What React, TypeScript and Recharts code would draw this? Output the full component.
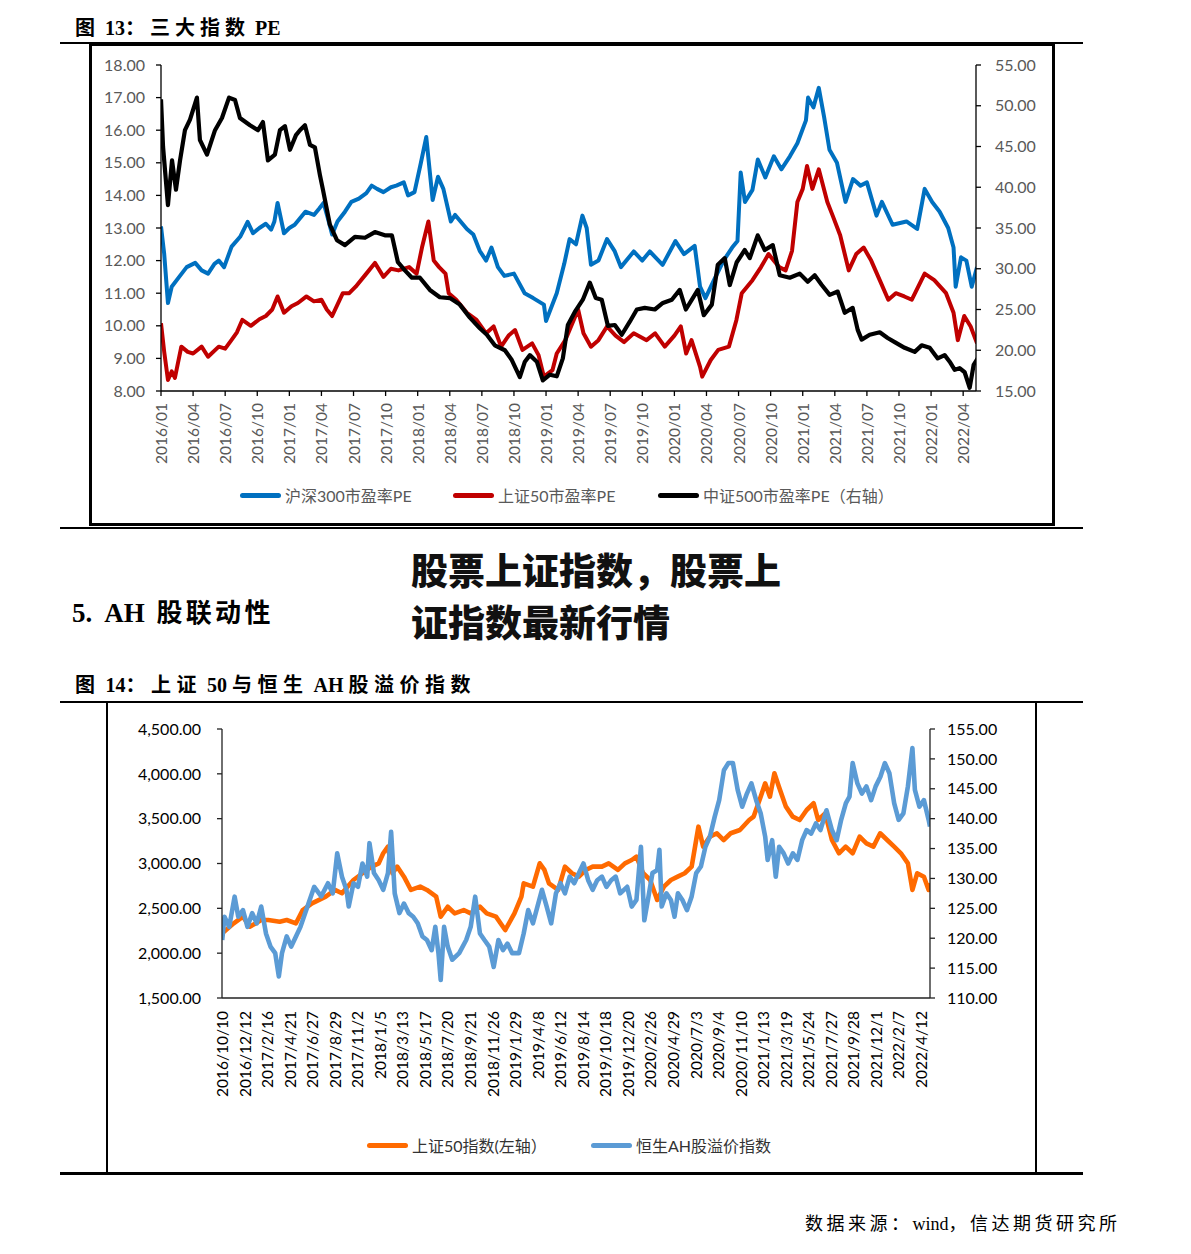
import React from 'react';
import { LineChart, Line, XAxis, YAxis, Legend } from 'recharts';

// ---------- Figure 13: PE of three indices (x = months since 2016/01) ----------
const peTickLabels = [
  '2016/01', '2016/04', '2016/07', '2016/10', '2017/01', '2017/04', '2017/07', '2017/10',
  '2018/01', '2018/04', '2018/07', '2018/10', '2019/01', '2019/04', '2019/07', '2019/10',
  '2020/01', '2020/04', '2020/07', '2020/10', '2021/01', '2021/04', '2021/07', '2021/10',
  '2022/01', '2022/04',
];
const peTickMonths = [0, 3, 6, 9, 12, 15, 18, 21, 24, 27, 30, 33, 36, 39, 42, 45, 48, 51, 54, 57, 60, 63, 66, 69, 72, 75];
const peLeftTicks = [8, 9, 10, 11, 12, 13, 14, 15, 16, 17, 18];
const peRightTicks = [15, 20, 25, 30, 35, 40, 45, 50, 55];

const hs300PE: [number, number][] = [
  [0, 13.05], [0.3, 12.2], [0.65, 10.7], [1.0, 11.2], [1.7, 11.5], [2.4, 11.8], [3.2, 11.93], [3.8, 11.7],
  [4.4, 11.6], [5.0, 11.9], [5.4, 12.0], [5.9, 11.8], [6.6, 12.43], [7.4, 12.73], [8.1, 13.19], [8.6, 12.84],
  [9.2, 13.0], [9.8, 13.13], [10.3, 12.95], [10.6, 13.2], [10.9, 13.77], [11.5, 12.84], [12.0, 13.0], [12.5, 13.1],
  [13.0, 13.3], [13.5, 13.5], [14.3, 13.4], [14.8, 13.6], [15.2, 13.77], [15.6, 13.3], [16.0, 12.8], [16.5, 13.2],
  [17.2, 13.5], [17.8, 13.8], [18.5, 13.9], [19.2, 14.07], [19.7, 14.3], [20.2, 14.2], [20.8, 14.1], [21.5, 14.25],
  [22.0, 14.3], [22.7, 14.4], [23.1, 14.0], [23.7, 14.1], [24.3, 15.0], [24.8, 15.79], [25.4, 13.86], [25.9, 14.57],
  [26.4, 14.2], [27.1, 13.2], [27.5, 13.4], [28.6, 12.97], [29.2, 12.8], [29.8, 12.3], [30.4, 12.0], [30.9, 12.4],
  [31.5, 11.8], [32.1, 11.53], [33.0, 11.6], [34.0, 11.0], [34.8, 10.85], [35.8, 10.65], [36.0, 10.15], [37.0, 11.0],
  [37.7, 11.9], [38.2, 12.66], [38.8, 12.5], [39.4, 13.38], [39.8, 13.0], [40.2, 11.87], [40.9, 12.0], [41.7, 12.66],
  [42.4, 12.3], [43.0, 11.8], [44.2, 12.28], [45.0, 12.0], [45.7, 12.28], [46.9, 11.87], [48.1, 12.6], [48.9, 12.2],
  [49.9, 12.45], [50.4, 11.2], [50.9, 10.85], [51.7, 11.4], [52.6, 12.0], [53.4, 12.4], [53.9, 12.6], [54.2, 14.7],
  [54.6, 13.8], [55.3, 14.17], [55.8, 15.1], [56.5, 14.55], [57.3, 15.2], [58.0, 14.8], [58.8, 15.2], [59.5, 15.6],
  [60.3, 16.3], [60.5, 17.0], [61.0, 16.7], [61.5, 17.3], [62.0, 16.4], [62.5, 15.4], [63.2, 15.0], [64.0, 13.8],
  [64.7, 14.5], [65.4, 14.3], [66.0, 14.4], [66.9, 13.38], [67.4, 13.8], [68.4, 13.1], [69.7, 13.2], [70.7, 12.97],
  [71.4, 14.2], [72.1, 13.8], [72.8, 13.5], [73.6, 13.0], [74.1, 12.4], [74.3, 11.2], [74.8, 12.1], [75.3, 12.0],
  [75.8, 11.2], [76.3, 11.8],
];

const sz50PE: [number, number][] = [
  [0, 10.08], [0.3, 9.2], [0.65, 8.34], [1.0, 8.6], [1.3, 8.4], [1.9, 9.36], [2.5, 9.2], [3.0, 9.15],
  [3.8, 9.36], [4.4, 9.05], [5.4, 9.36], [6.0, 9.3], [6.6, 9.57], [7.1, 9.8], [7.6, 10.18], [8.4, 10.0],
  [9.2, 10.2], [9.8, 10.3], [10.4, 10.5], [10.9, 10.9], [11.5, 10.4], [12.2, 10.6], [12.8, 10.7], [13.6, 10.9],
  [14.3, 10.75], [15.0, 10.8], [15.5, 10.5], [16.0, 10.3], [17.0, 11.0], [17.6, 11.0], [18.2, 11.2], [19.2, 11.6],
  [20.0, 11.93], [20.8, 11.5], [21.5, 11.75], [22.2, 11.7], [23.2, 11.8], [23.9, 11.6], [24.4, 12.4], [25.0, 13.2],
  [25.5, 12.0], [26.0, 11.8], [26.6, 11.6], [26.9, 11.0], [27.6, 10.8], [28.6, 10.4], [29.5, 10.18], [30.4, 9.77],
  [31.1, 9.98], [31.8, 9.36], [32.5, 9.7], [33.1, 9.87], [33.8, 9.26], [34.7, 9.46], [35.3, 9.1], [35.8, 8.44],
  [36.6, 8.64], [37.0, 9.15], [37.8, 9.56], [39.0, 10.5], [39.5, 9.77], [40.2, 9.36], [40.9, 9.56], [41.7, 9.98],
  [42.5, 9.7], [43.3, 9.5], [44.2, 9.77], [45.4, 9.56], [46.2, 9.77], [47.1, 9.36], [48.0, 9.7], [48.6, 9.98],
  [49.1, 9.15], [49.6, 9.56], [50.4, 8.74], [50.6, 8.44], [51.4, 8.95], [52.1, 9.26], [53.1, 9.36], [53.8, 10.18],
  [54.3, 11.0], [55.3, 11.4], [56.1, 11.8], [56.8, 12.2], [57.8, 11.8], [58.4, 11.7], [59.0, 12.3], [59.5, 13.8],
  [60.0, 14.2], [60.4, 14.9], [60.9, 14.2], [61.5, 14.8], [62.3, 13.8], [62.8, 13.38], [63.5, 12.78], [64.3, 11.7],
  [65.0, 12.2], [65.7, 12.4], [66.4, 12.0], [67.2, 11.4], [68.0, 10.8], [68.7, 11.0], [69.5, 10.9], [70.2, 10.8],
  [71.4, 11.6], [72.3, 11.4], [73.4, 11.0], [74.1, 10.4], [74.5, 9.56], [75.1, 10.3], [75.7, 9.98], [76.3, 9.46],
];

const zz500PE: [number, number][] = [
  [0, 50.8], [0.19, 45.0], [0.65, 37.8], [1.03, 43.3], [1.4, 39.7], [1.78, 43.3], [2.24, 47.0], [2.71, 48.3],
  [3.36, 51.0], [3.64, 45.8], [4.3, 44.0], [5.05, 47.0], [5.7, 48.5], [6.36, 51.0], [6.92, 50.7], [7.38, 48.5],
  [8.32, 47.6], [9.07, 47.0], [9.53, 48.0], [10.0, 43.3], [10.65, 44.0], [11.12, 47.0], [11.59, 47.5], [12.06, 44.6],
  [12.62, 46.4], [12.99, 47.0], [13.46, 47.6], [13.93, 45.2], [14.39, 44.9], [14.86, 41.5], [15.14, 39.7], [15.79, 35.4],
  [16.45, 33.5], [17.2, 32.9], [18.13, 33.9], [19.07, 33.8], [20.0, 34.5], [20.93, 34.1], [21.59, 34.1], [22.15, 30.8],
  [22.8, 29.8], [23.46, 28.9], [24.21, 28.9], [25.14, 27.4], [26.07, 26.5], [27.01, 26.4], [27.94, 25.6], [28.88, 24.0],
  [29.81, 22.7], [30.47, 21.9], [31.21, 20.6], [32.15, 20.0], [32.8, 18.8], [33.55, 16.7], [34.02, 18.6], [34.49, 19.4],
  [35.14, 18.6], [35.7, 16.3], [36.36, 17.0], [37.0, 16.8], [37.57, 19.0], [38.04, 23.1], [38.69, 24.7], [39.44, 26.2],
  [40.09, 28.3], [40.65, 26.4], [41.21, 26.2], [41.78, 23.0], [42.43, 23.1], [43.08, 21.9], [43.83, 23.5], [44.49, 25.0],
  [45.23, 25.2], [46.17, 25.0], [46.92, 25.8], [47.76, 26.2], [48.5, 27.4], [49.07, 25.0], [49.72, 26.4], [50.19, 27.4],
  [50.75, 24.3], [51.5, 25.6], [52.06, 30.5], [52.71, 31.3], [53.18, 28.0], [53.83, 30.8], [54.58, 32.3], [55.05, 31.3],
  [55.79, 34.1], [56.45, 32.3], [57.2, 32.9], [57.85, 29.2], [58.79, 28.9], [59.72, 29.4], [60.47, 28.4], [61.12, 29.2],
  [61.78, 28.0], [62.52, 26.8], [63.27, 27.2], [63.93, 24.6], [64.67, 25.2], [65.14, 22.5], [65.51, 21.3], [66.26, 21.9],
  [67.2, 22.2], [67.94, 21.5], [68.6, 21.0], [69.53, 20.3], [70.47, 19.8], [71.12, 20.6], [71.87, 20.3], [72.62, 19.0],
  [73.27, 19.4], [73.74, 18.6], [74.21, 17.6], [74.67, 17.8], [75.14, 17.3], [75.61, 15.4], [75.98, 18.2], [76.36, 19.0],
];

// ---------- Figure 14: SSE 50 vs Hang Seng AH premium (x = label interval index) ----------
const ahTickLabels = [
  '2016/10/10', '2016/12/12', '2017/2/16', '2017/4/21', '2017/6/27', '2017/8/29', '2017/11/2', '2018/1/5',
  '2018/3/13', '2018/5/17', '2018/7/20', '2018/9/21', '2018/11/26', '2019/1/29', '2019/4/8', '2019/6/12',
  '2019/8/14', '2019/10/18', '2019/12/20', '2020/2/26', '2020/4/29', '2020/7/3', '2020/9/4', '2020/11/10',
  '2021/1/13', '2021/3/19', '2021/5/24', '2021/7/27', '2021/9/28', '2021/12/1', '2022/2/7', '2022/4/12',
];
const ahLeftTicks = [1500, 2000, 2500, 3000, 3500, 4000, 4500];
const ahRightTicks = [110, 115, 120, 125, 130, 135, 140, 145, 150, 155];

const sz50Index: [number, number][] = [
  [0.01, 2221], [0.52, 2333], [0.93, 2407], [1.23, 2295], [1.74, 2370], [2.05, 2370], [2.56, 2351], [2.87, 2370],
  [3.28, 2333], [3.58, 2481], [3.99, 2556], [4.6, 2630], [5.01, 2705], [5.32, 2668], [5.83, 2816], [6.23, 2891],
  [6.64, 2965], [6.95, 3002], [7.15, 3114], [7.36, 3188], [7.56, 2891], [7.77, 2965], [8.07, 2853], [8.38, 2705],
  [8.79, 2742], [9.09, 2705], [9.5, 2630], [9.7, 2407], [10.01, 2518], [10.32, 2444], [10.72, 2481], [11.03, 2444],
  [11.44, 2518], [11.74, 2444], [12.15, 2407], [12.56, 2258], [12.97, 2444], [13.28, 2630], [13.38, 2779], [13.79, 2742],
  [14.09, 3002], [14.3, 2928], [14.5, 2779], [14.91, 2705], [15.21, 2965], [15.52, 2891], [15.83, 2853], [16.13, 2928],
  [16.44, 2965], [16.85, 2965], [17.15, 3002], [17.56, 2928], [17.87, 3002], [18.17, 3039], [18.38, 3077], [18.68, 2891],
  [18.99, 2816], [19.3, 2593], [19.6, 2742], [19.91, 2816], [20.21, 2853], [20.52, 2891], [20.83, 2965], [21.03, 3262],
  [21.13, 3411], [21.34, 3188], [21.64, 3300], [21.95, 3337], [22.25, 3262], [22.56, 3337], [22.97, 3374], [23.38, 3485],
  [23.58, 3523], [23.89, 3745], [24.09, 3894], [24.3, 3745], [24.5, 4006], [24.7, 3857], [25.01, 3634], [25.31, 3523],
  [25.62, 3485], [25.93, 3597], [26.24, 3672], [26.44, 3485], [26.75, 3560], [27.05, 3262], [27.36, 3114], [27.66, 3188],
  [27.97, 3114], [28.28, 3300], [28.58, 3225], [28.89, 3188], [29.19, 3337], [29.5, 3262], [29.81, 3188], [30.11, 3114],
  [30.42, 3002], [30.62, 2705], [30.83, 2891], [31.13, 2853], [31.34, 2705], [31.4, 2779],
];

const ahPremium: [number, number][] = [
  [0.01, 119.7], [0.11, 123.6], [0.32, 121.9], [0.56, 126.95], [0.72, 123.6], [0.93, 124.7], [1.13, 121.9], [1.34, 124.2],
  [1.54, 122.5], [1.74, 125.3], [1.95, 120.8], [2.15, 118.6], [2.36, 117.5], [2.52, 113.6], [2.66, 117.5], [2.87, 120.3],
  [3.07, 118.6], [3.28, 120.3], [3.48, 121.9], [3.79, 125.3], [4.09, 128.6], [4.4, 127.0], [4.7, 129.2], [4.91, 127.5],
  [5.11, 134.2], [5.32, 130.3], [5.52, 128.1], [5.62, 125.3], [5.83, 129.2], [6.03, 128.6], [6.23, 132.5], [6.44, 130.3],
  [6.54, 135.9], [6.74, 130.9], [6.95, 129.7], [7.15, 128.1], [7.36, 130.9], [7.5, 137.8], [7.66, 127.5], [7.87, 124.2],
  [8.07, 125.8], [8.28, 124.2], [8.48, 123.6], [8.68, 122.5], [8.89, 120.3], [9.09, 119.7], [9.3, 118.0], [9.46, 121.9],
  [9.6, 117.5], [9.7, 113.0], [9.85, 121.9], [10.01, 118.6], [10.21, 116.4], [10.52, 117.5], [10.83, 119.7], [11.03, 121.9],
  [11.23, 126.95], [11.44, 120.8], [11.64, 119.7], [11.85, 118.6], [12.05, 115.2], [12.26, 119.7], [12.46, 118.0], [12.66, 119.1],
  [12.87, 117.5], [13.17, 117.5], [13.38, 120.8], [13.58, 124.7], [13.79, 122.5], [13.99, 125.3], [14.19, 128.1], [14.4, 125.3],
  [14.6, 122.5], [14.81, 127.5], [15.01, 129.2], [15.21, 127.5], [15.42, 130.3], [15.62, 129.2], [15.83, 130.9], [16.03, 132.5],
  [16.24, 129.7], [16.44, 128.1], [16.64, 129.7], [16.85, 130.3], [17.05, 128.6], [17.26, 129.7], [17.46, 130.3], [17.66, 127.5],
  [17.97, 128.6], [18.17, 125.3], [18.38, 126.4], [18.58, 135.3], [18.73, 123.0], [18.89, 126.4], [19.09, 130.9], [19.3, 131.4],
  [19.4, 134.8], [19.5, 125.3], [19.71, 127.5], [19.91, 126.4], [20.07, 123.6], [20.22, 127.5], [20.42, 126.4], [20.62, 124.7],
  [20.83, 127.0], [21.03, 130.9], [21.24, 132.0], [21.44, 135.3], [21.64, 137.0], [21.85, 140.3], [22.05, 143.1], [22.26, 148.1],
  [22.46, 149.3], [22.66, 149.3], [22.87, 144.8], [23.07, 142.0], [23.28, 144.2], [23.48, 145.9], [23.69, 143.1], [23.89, 140.9],
  [24.09, 137.0], [24.2, 133.1], [24.4, 136.4], [24.56, 130.3], [24.71, 135.3], [24.91, 134.2], [25.11, 132.5], [25.32, 134.2],
  [25.52, 133.1], [25.73, 136.4], [25.93, 138.1], [26.13, 137.5], [26.34, 139.2], [26.54, 138.1], [26.81, 141.4], [27.05, 138.1],
  [27.26, 136.4], [27.46, 139.8], [27.67, 142.6], [27.83, 143.7], [27.97, 149.3], [28.18, 145.9], [28.38, 144.2], [28.58, 145.4],
  [28.79, 143.1], [28.99, 145.4], [29.2, 147.0], [29.4, 149.3], [29.6, 147.6], [29.81, 142.6], [30.01, 139.8], [30.22, 140.9],
  [30.42, 145.4], [30.62, 151.8], [30.73, 144.8], [30.93, 142.0], [31.13, 143.1], [31.34, 139.8], [31.4, 138.7],
];

// ---------- helpers ----------
const toRows = (pts: [number, number][]) => pts.map(([x, v]) => ({ x, v }));
const ahTickIdx = ahTickLabels.map((_, i) => i);

const AXIS_FONT = "Lato, 'Noto Sans CJK SC', sans-serif";
const SERIF_FONT = "'Liberation Serif', 'Times New Roman', 'Noto Sans CJK SC', serif";

const RotTick = (props: any) => {
  const { x, y, payload, labels, off, color } = props;
  const label = labels[payload.index] ?? '';
  return (
    <g transform={`translate(${x},${y})`}>
      <text
        transform="rotate(-90)"
        x={-off}
        y={0}
        textAnchor="end"
        dominantBaseline="central"
        fill={color}
        fontSize={15.5}
        fontFamily={AXIS_FONT}
      >
        {label}
      </text>
    </g>
  );
};

type LegendItem = { name: string; color: string; left: number };
const makeLegend = (items: LegendItem[], color: string) => () => (
  <div style={{ position: 'relative', width: 1191, height: 24, fontFamily: AXIS_FONT, fontSize: 16, color }}>
    {items.map((it) => (
      <div
        key={it.name}
        style={{ position: 'absolute', left: it.left, top: 0, height: 24, display: 'flex', alignItems: 'center', whiteSpace: 'nowrap' }}
      >
        <span style={{ display: 'inline-block', width: 41, height: 5, borderRadius: 3, background: it.color, marginRight: 4 }} />
        <span>{it.name}</span>
      </div>
    ))}
  </div>
);

const peLegend = makeLegend(
  [
    { name: '沪深300市盈率PE', color: '#0070C0', left: 240 },
    { name: '上证50市盈率PE', color: '#C00000', left: 453 },
    { name: '中证500市盈率PE（右轴）', color: '#000000', left: 658 },
  ],
  '#595959'
);
const ahLegend = makeLegend(
  [
    { name: '上证50指数(左轴）', color: '#FF6A00', left: 367 },
    { name: '恒生AH股溢价指数', color: '#5B9BD5', left: 591 },
  ],
  '#333333'
);

const abs = (s: React.CSSProperties): React.CSSProperties => ({ position: 'absolute', ...s });
// CJK parts get wider tracking, Latin parts stay tight
const cj = (t: string, ls: number) => <span style={{ letterSpacing: ls }}>{t}</span>;
const la = (t: string) => <span style={{ letterSpacing: 0 }}>{t}</span>;

export default function App() {
  const fmt2 = (v: number) => v.toFixed(2);
  const fmtComma = (v: number) => v.toLocaleString('en-US', { minimumFractionDigits: 2, maximumFractionDigits: 2 });
  return (
    <div style={abs({ left: 0, top: 0, width: 1191, height: 1254, background: '#fff', overflow: 'hidden' })}>
      {/* Title 13 */}
      <div style={abs({ left: 75, top: 15, fontFamily: SERIF_FONT, fontWeight: 700, fontSize: 20, lineHeight: '26px', color: '#000', whiteSpace: 'pre' })}>
        {cj('图', 5)}{la(' 13')}{cj('：三大指数', 5)}{la(' PE')}
      </div>
      <div style={abs({ left: 60, top: 42, width: 1023, height: 2, background: '#000' })} />
      <div style={abs({ left: 89, top: 43, width: 966, height: 483, border: '3px solid #000', boxSizing: 'border-box' })} />
      <div style={abs({ left: 60, top: 527, width: 1023, height: 2, background: '#000' })} />

      <div style={abs({ left: 0, top: 0 })}>
        <LineChart width={1191} height={540} margin={{ top: 65, right: 155, bottom: 79, left: 101 }}>
          <XAxis
            type="number"
            dataKey="x"
            domain={[0, 76.2]}
            allowDataOverflow
            ticks={peTickMonths}
            interval={0}
            height={70}
            tickSize={5}
            tickMargin={2}
            stroke="#000"
            strokeWidth={1.3}
            tick={<RotTick labels={peTickLabels} off={5} color="#595959" />}
          />
          <YAxis
            yAxisId="L"
            domain={[8, 18]}
            ticks={peLeftTicks}
            interval={0}
            width={60}
            tickSize={5}
            tickMargin={11}
            stroke="#000"
            strokeWidth={1.3}
            tickFormatter={fmt2}
            tick={{ fill: '#595959', fontSize: 16, fontFamily: AXIS_FONT }}
          />
          <YAxis
            yAxisId="R"
            orientation="right"
            domain={[15, 55]}
            ticks={peRightTicks}
            interval={0}
            width={60}
            tickSize={5}
            tickMargin={14}
            stroke="#000"
            strokeWidth={1.3}
            tickFormatter={fmt2}
            tick={{ fill: '#595959', fontSize: 16, fontFamily: AXIS_FONT }}
          />
          <Line yAxisId="L" data={toRows(hs300PE)} dataKey="v" name="沪深300市盈率PE" stroke="#0070C0" strokeWidth={4} strokeLinejoin="round" dot={false} isAnimationActive={false} />
          <Line yAxisId="L" data={toRows(sz50PE)} dataKey="v" name="上证50市盈率PE" stroke="#C00000" strokeWidth={4} strokeLinejoin="round" dot={false} isAnimationActive={false} />
          <Line yAxisId="R" data={toRows(zz500PE)} dataKey="v" name="中证500市盈率PE（右轴）" stroke="#000000" strokeWidth={4.2} strokeLinejoin="round" dot={false} isAnimationActive={false} />
          <Legend content={peLegend} layout="horizontal" verticalAlign="middle" align="center" wrapperStyle={{ left: 0, top: 483, width: 1191, height: 24 }} />
        </LineChart>
      </div>

      {/* Section heading and overlay */}
      <div style={abs({ left: 72, top: 597, fontFamily: SERIF_FONT, fontWeight: 700, fontSize: 27, lineHeight: '32px', color: '#000', whiteSpace: 'pre' })}>
        {la('5.  AH ')}<span style={{ fontSize: 26, letterSpacing: 3.3, marginLeft: 5 }}>股联动性</span>
      </div>
      <div style={abs({ left: 411, top: 543, width: 420, fontFamily: "'Noto Sans CJK SC', sans-serif", fontWeight: 900, fontSize: 37, letterSpacing: 0, lineHeight: '52px', color: '#111' })}>
        <div>股票上证指数，股票上</div>
        <div>证指数最新行情</div>
      </div>

      {/* Title 14 */}
      <div style={abs({ left: 75, top: 672, fontFamily: SERIF_FONT, fontWeight: 700, fontSize: 20, lineHeight: '26px', color: '#000', whiteSpace: 'pre' })}>
        {cj('图', 5.5)}{la(' 14')}{cj('：上证', 5.5)}{la(' 50 ')}{cj('与恒生', 5.5)}{la(' AH ')}{cj('股溢价指数', 5.5)}
      </div>
      <div style={abs({ left: 60, top: 701, width: 1023, height: 1.5, background: '#000' })} />
      <div style={abs({ left: 106, top: 702, width: 2, height: 471, background: '#000' })} />
      <div style={abs({ left: 1035, top: 702, width: 2, height: 471, background: '#000' })} />
      <div style={abs({ left: 60, top: 1172, width: 1023, height: 3, background: '#000' })} />

      <div style={abs({ left: 0, top: 700 })}>
        <LineChart width={1191} height={480} margin={{ top: 29, right: 181, bottom: 82, left: 142 }}>
          <XAxis
            type="number"
            dataKey="x"
            domain={[0, 31.4]}
            allowDataOverflow
            ticks={ahTickIdx}
            interval={0}
            height={100}
            tickSize={0}
            tickMargin={0}
            tickLine={false}
            stroke="#222"
            strokeWidth={1.5}
            tick={<RotTick labels={ahTickLabels} off={13} color="#000" />}
          />
          <YAxis
            yAxisId="L"
            domain={[1500, 4500]}
            ticks={ahLeftTicks}
            interval={0}
            width={80}
            tickSize={5}
            tickMargin={16}
            stroke="#222"
            strokeWidth={1.3}
            tickFormatter={fmtComma}
            tick={{ fill: '#000', fontSize: 16, fontFamily: AXIS_FONT }}
          />
          <YAxis
            yAxisId="R"
            orientation="right"
            domain={[110, 155]}
            ticks={ahRightTicks}
            interval={0}
            width={80}
            tickSize={5}
            tickMargin={12}
            stroke="#222"
            strokeWidth={1.3}
            tickFormatter={fmt2}
            tick={{ fill: '#000', fontSize: 16, fontFamily: AXIS_FONT }}
          />
          <Line yAxisId="L" data={toRows(sz50Index)} dataKey="v" name="上证50指数(左轴）" stroke="#FF6A00" strokeWidth={4.6} strokeLinejoin="round" dot={false} isAnimationActive={false} />
          <Line yAxisId="R" data={toRows(ahPremium)} dataKey="v" name="恒生AH股溢价指数" stroke="#5B9BD5" strokeWidth={4.6} strokeLinejoin="round" dot={false} isAnimationActive={false} />
          <Legend content={ahLegend} layout="horizontal" verticalAlign="middle" align="center" wrapperStyle={{ left: 0, top: 433, width: 1191, height: 24 }} />
        </LineChart>
      </div>

      {/* Source */}
      <div style={abs({ left: 805, top: 1211, fontFamily: SERIF_FONT, fontSize: 18, lineHeight: '26px', color: '#000', whiteSpace: 'pre' })}>
        {cj('数据来源：', 3.5)}{la('wind')}{cj('，信达期货研究所', 3.5)}
      </div>
    </div>
  );
}
